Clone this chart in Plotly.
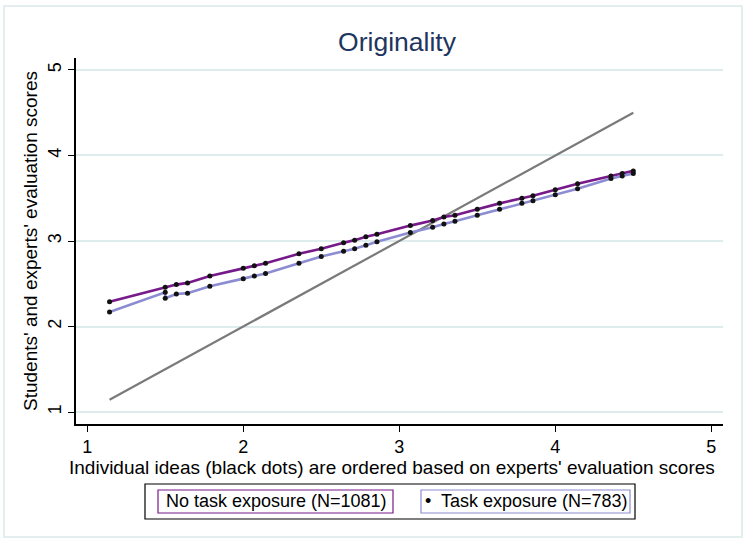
import plotly.graph_objects as go

# Expert scores (x) of individual ideas
expert_scores = [1.143, 1.5, 1.571, 1.643, 1.786, 2.0, 2.071, 2.143, 2.357, 2.5, 2.643, 2.714,
                 2.786, 2.857, 3.071, 3.214, 3.286, 3.357, 3.5, 3.643, 3.786, 3.857, 4.0, 4.143,
                 4.357, 4.429, 4.5]
no_exposure = [2.29, 2.46, 2.49, 2.51, 2.59, 2.68, 2.71, 2.74, 2.85, 2.91, 2.98, 3.01,
               3.05, 3.08, 3.18, 3.24, 3.28, 3.30, 3.37, 3.44, 3.50, 3.53, 3.60, 3.67,
               3.76, 3.79, 3.82]
exposure_x = [1.143, 1.5, 1.5, 1.571, 1.643, 1.786, 2.0, 2.071, 2.143, 2.357, 2.5, 2.643, 2.714,
              2.786, 2.857, 3.071, 3.214, 3.286, 3.357, 3.5, 3.643, 3.786, 3.857, 4.0, 4.143,
              4.357, 4.429, 4.5]
exposure = [2.17, 2.40, 2.33, 2.38, 2.39, 2.47, 2.56, 2.59, 2.62, 2.74, 2.82, 2.88, 2.91,
            2.95, 2.99, 3.10, 3.16, 3.20, 3.23, 3.30, 3.37, 3.44, 3.47, 3.54, 3.61,
            3.73, 3.76, 3.79]
diag = [1.143, 4.5]
x_ticks = [1, 2, 3, 4, 5]
y_ticks = [1, 2, 3, 4, 5]

PURPLE = "#77198a"
LAV = "#8c8cd2"
GRAY = "#7a7a7a"

fig = go.Figure()
fig.add_trace(go.Scatter(x=diag, y=diag, mode="lines", line=dict(color=GRAY, width=2.2),
                         showlegend=False, hoverinfo="skip"))
fig.add_trace(go.Scatter(x=expert_scores, y=no_exposure, mode="lines+markers",
                         name="No task exposure (N=1081)",
                         line=dict(color=PURPLE, width=2.6),
                         marker=dict(size=5, color="#111111")))
fig.add_trace(go.Scatter(x=exposure_x, y=exposure, mode="lines+markers",
                         name="Task exposure (N=783)",
                         line=dict(color=LAV, width=2.6),
                         marker=dict(size=5, color="#111111")))

FONT = "Liberation Sans, Arial, sans-serif"

fig.update_layout(
    width=743, height=542,
    margin=dict(l=76, r=20, t=58, b=118),
    paper_bgcolor="white", plot_bgcolor="white",
    showlegend=False,
    font=dict(family=FONT, color="black"),
    title=dict(text="Originality", x=(397 / 743), xanchor="center", y=1 - 42 / 542, yanchor="middle",
               font=dict(size=26.5, color="#1e3560", family=FONT)),
    xaxis=dict(range=[0.928, 5.075], tickvals=x_ticks, ticks="outside", ticklen=6, tickcolor="black",
               showline=True, linecolor="black", linewidth=1.5, showgrid=False, zeroline=False,
               tickfont=dict(size=18)),
    yaxis=dict(range=[0.86, 5.14], tickvals=y_ticks, ticks="outside", ticklen=6, tickcolor="black",
               showline=True, linecolor="black", linewidth=1.5, showgrid=True, gridcolor="#dfeced",
               gridwidth=1.5, zeroline=False, tickangle=-90, tickfont=dict(size=18),
               title=dict(text="Students' and experts' evaluation scores", font=dict(size=19), standoff=2)),
)

W, H = 647.0, 366.0
def px(p):
    return (p - 76) / W
def py(q):
    return (424 - q) / H

shapes = [
    # outer graph frame
    dict(type="rect", xref="paper", yref="paper", x0=px(4), x1=px(742), y0=py(537), y1=py(6),
         line=dict(color="#dce9ea", width=1.5), layer="below"),
    # legend outer box
    dict(type="rect", xref="paper", yref="paper", x0=px(145), x1=px(635), y0=py(519), y1=py(484),
         line=dict(color="black", width=1.2)),
    dict(type="rect", xref="paper", yref="paper", x0=px(158), x1=px(393), y0=py(513), y1=py(490),
         line=dict(color=PURPLE, width=1.2)),
    dict(type="rect", xref="paper", yref="paper", x0=px(421), x1=px(630), y0=py(513), y1=py(490),
         line=dict(color=LAV, width=1.2)),
]
annotations = [
    # x-axis title (Stata centres it on the graph region, slightly left of plot centre)
    dict(text="Individual ideas (black dots) are ordered based on experts' evaluation scores",
         xref="paper", yref="paper", x=px(392), y=py(468), xanchor="center", yanchor="middle",
         showarrow=False, font=dict(size=19, family=FONT)),
    dict(text="No task exposure (N=1081)", xref="paper", yref="paper", x=px(276), y=py(501),
         xanchor="center", yanchor="middle", showarrow=False, font=dict(size=18, family=FONT)),
    dict(text="•  Task exposure (N=783)", xref="paper", yref="paper", x=px(526), y=py(501),
         xanchor="center", yanchor="middle", showarrow=False, font=dict(size=18, family=FONT)),
]
fig.update_layout(shapes=shapes, annotations=annotations)

fig.write_html("out.html")
